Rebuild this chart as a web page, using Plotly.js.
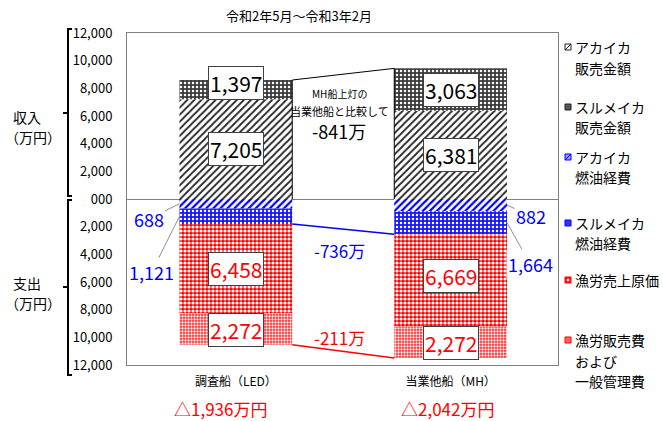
<!DOCTYPE html>
<html>
<head>
<meta charset="utf-8">
<script src="https://cdn.plot.ly/plotly-3.0.1.min.js"></script>
<style>
html,body{margin:0;padding:0;background:#fff;}
#chart{width:663px;height:421px;}
</style>
</head>
<body>
<div id="chart"></div>
<script>
// ---- data ----
const title = '令和2年5月～令和3年2月';
const categories = ['調査船（LED）', '当業他船（MH）'];
const balance = ['△1,936万円', '△2,042万円'];
const seriesNames = [
  ['アカイカ', '販売金額'],
  ['スルメイカ', '販売金額'],
  ['アカイカ', '燃油経費'],
  ['スルメイカ', '燃油経費'],
  ['漁労売上原価'],
  ['漁労販売費', 'および', '一般管理費']
];
// income (万円)
const akaikaSales = [7205, 6381];
const surumeSales = [1397, 3063];
// expenses (万円, shown below zero)
const akaikaFuel = [688, 882];
const surumeFuel = [1121, 1664];
const costOfSales = [6458, 6669];
const sellingAdmin = [2272, 2272];
const yTickVals = [-12000, -10000, -8000, -6000, -4000, -2000, 0, 2000, 4000, 6000, 8000, 10000, 12000];
const yTickText = ['12,000', '10,000', '8,000', '6,000', '4,000', '2,000', '000', '2,000', '4,000', '6,000', '8,000', '10,000', '12,000'];
const incomeNote = ['MH船上灯の', '当業他船と比較して', '-841万'];
const fuelNote = '-736万';
const costNote = '-211万';
const axisGroupLabels = [['収入', '（万円）'], ['支出', '（万円）']];

// ---- helpers ----
const FONT = '"Noto Sans CJK JP", "Noto Sans", sans-serif';
const L = 127, R = 558, T = 33, B = 365;
const px = x => (x - L) / (R - L);
const py = y => (B - y) / (B - T);
const fmt = v => v.toLocaleString('en-US');
const neg = a => a.map(v => -v);
const BW = 0.525, HW = BW / 2;

const styles = [
  {shape: '/', fg: '#222222', bg: '#ffffff', size: 5, solidity: 0.35},
  {shape: '.', fg: '#ffffff', bg: '#3a3a3a', size: 4, solidity: 0.3},
  {shape: '/', fg: '#0000ff', bg: '#ffffff', size: 5, solidity: 0.45},
  {shape: '.', fg: '#ffffff', bg: '#1515ff', size: 4, solidity: 0.3},
  {shape: '.', fg: '#ffffff', bg: '#ff0000', size: 4, solidity: 0.5},
  {shape: '.', fg: '#ffffff', bg: '#ff2a2a', size: 3, solidity: 0.45}
];
const iconColors = [
  ['#ffffff', '#222222'], ['#555555', '#222222'], ['#9999ff', '#0000ff'],
  ['#3333ff', '#0000ff'], ['#ff2020', '#ff0000'], ['#ff6060', '#ff0000']
];

const seriesVals = [akaikaSales, surumeSales, neg(akaikaFuel), neg(surumeFuel), neg(costOfSales), neg(sellingAdmin)];
const traces = seriesVals.map((vals, i) => ({
  type: 'bar',
  x: categories,
  y: vals,
  width: BW,
  name: seriesNames[i].join(''),
  showlegend: false,
  hoverinfo: 'skip',
  marker: {
    color: styles[i].bg,
    line: {width: 0},
    pattern: {shape: styles[i].shape, fgcolor: styles[i].fg, bgcolor: styles[i].bg,
              size: styles[i].size, solidity: styles[i].solidity, fillmode: 'replace'}
  }
}));

// cumulative values
const incomeTop = categories.map((_, i) => akaikaSales[i] + surumeSales[i]);
const fuelBottom = categories.map((_, i) => -(akaikaFuel[i] + surumeFuel[i]));
const costBottom = categories.map((_, i) => fuelBottom[i] - costOfSales[i] - sellingAdmin[i]);

const annotations = [];
const paperText = (x, y, text, size, color, anchor) => annotations.push({
  x: px(x), y: py(y), xref: 'paper', yref: 'paper', text: text, showarrow: false,
  xanchor: anchor || 'center', yanchor: 'middle',
  font: {family: FONT, size: size, color: color}
});
const boxLabel = (i, yv, val, color, yshift) => annotations.push({
  x: i, y: yv, xref: 'x', yref: 'y', text: fmt(val), showarrow: false,
  xanchor: 'center', yanchor: 'middle',
  font: {family: FONT, size: 21, color: color}, bgcolor: '#ffffff',
  bordercolor: '#404040', borderwidth: 1, borderpad: 1, yshift: yshift || 0
});
categories.forEach((c, i) => {
  boxLabel(i, akaikaSales[i] / 2, akaikaSales[i], '#000000');
  boxLabel(i, akaikaSales[i] + surumeSales[i] / 2, surumeSales[i], '#000000', i === 0 ? 7 : 0);
  boxLabel(i, fuelBottom[i] - costOfSales[i] / 2, costOfSales[i], '#ff0000', i === 1 ? 4 : 0);
  boxLabel(i, fuelBottom[i] - costOfSales[i] - sellingAdmin[i] / 2, sellingAdmin[i], '#ff0000', -1);
});
// fuel labels with leader lines
const leader = (xv, yv, val, ax, ay) => annotations.push({
  x: xv, y: yv, xref: 'x', yref: 'y', text: fmt(val), showarrow: true,
  arrowhead: 0, arrowwidth: 1, arrowcolor: '#909090', ax: ax, ay: ay,
  font: {family: FONT, size: 18, color: '#0000ff'}, bgcolor: '#ffffff', borderpad: 1
});
leader(0 - HW, -akaikaFuel[0] / 2, akaikaFuel[0], -31, 15);
leader(0 - HW, -akaikaFuel[0] - surumeFuel[0] / 2, surumeFuel[0], -28, 56);
leader(1 + HW, -akaikaFuel[1] / 2, akaikaFuel[1], 24, 11);
leader(1 + HW, -akaikaFuel[1] - surumeFuel[1] / 2, surumeFuel[1], 23, 41);

// comparison notes
const noteSizes = [10, 11, 18];
const noteY = [94, 111, 131];
incomeNote.forEach((t, k) => paperText(339, noteY[k], t, noteSizes[k], '#000000'));
paperText(339, 250, fuelNote, 17, '#0000ff');
paperText(339, 337, costNote, 17, '#ff0000');

// balance under categories
const balX = [220, 447];
balance.forEach((t, i) => paperText(balX[i], 408, t, 17, '#ff0000'));

// left group labels
const groupY = [[117, 137], [283, 303]];
axisGroupLabels.forEach((lines, g) => lines.forEach((t, k) =>
  paperText(k === 0 ? 27 : 33, groupY[g][k], t, 14, '#000000')));

// manual legend
const legendY = [[47, 68], [107, 127], [157, 177], [223, 243], [280], [340, 361, 381]];
const shapes = [];
seriesNames.forEach((lines, i) => {
  lines.forEach((t, k) => paperText(573, legendY[i][k], t, 14, '#000000', 'left'));
  const cy = legendY[i][0];
  shapes.push({type: 'rect', xref: 'paper', yref: 'paper', x0: px(565), x1: px(571), y0: py(cy - 3), y1: py(cy + 3),
    fillcolor: iconColors[i][0], line: {color: iconColors[i][1], width: 1}});
});
// tiny pattern hints in icons
shapes.push({type: 'line', xref: 'paper', yref: 'paper', x0: px(565), x1: px(571), y0: py(50), y1: py(44), line: {color: '#222', width: 1}});
shapes.push({type: 'line', xref: 'paper', yref: 'paper', x0: px(565), x1: px(571), y0: py(160), y1: py(154), line: {color: '#0000ff', width: 1}});
shapes.push({type: 'rect', xref: 'paper', yref: 'paper', x0: px(567), x1: px(569), y0: py(281), y1: py(279), fillcolor: '#fff', line: {width: 0}});

// brackets
const pth = pts => 'M' + pts.map(p => px(p[0]) + ',' + py(p[1])).join(' L');
shapes.push({type: 'path', xref: 'paper', yref: 'paper', path: pth([[72, 29], [68, 29], [68, 196], [72, 196]]), line: {color: '#000', width: 2}});
shapes.push({type: 'path', xref: 'paper', yref: 'paper', path: pth([[68, 113], [63, 113]]), line: {color: '#000', width: 2}});
shapes.push({type: 'path', xref: 'paper', yref: 'paper', path: pth([[72, 200], [68, 200], [68, 375], [72, 375]]), line: {color: '#000', width: 2}});
shapes.push({type: 'path', xref: 'paper', yref: 'paper', path: pth([[68, 287], [63, 287]]), line: {color: '#000', width: 2}});

// connector lines between bars
shapes.push({type: 'line', xref: 'x', yref: 'y', x0: 0 + HW, x1: 1 - HW, y0: incomeTop[0], y1: incomeTop[1], line: {color: '#000', width: 1}});
shapes.push({type: 'line', xref: 'x', yref: 'y', x0: 0 + HW, x1: 0 + HW, y0: incomeTop[0], y1: 0, line: {color: '#000', width: 1}});
shapes.push({type: 'line', xref: 'x', yref: 'y', x0: 1 - HW, x1: 1 - HW, y0: incomeTop[1], y1: 0, line: {color: '#000', width: 1}});
shapes.push({type: 'line', xref: 'x', yref: 'y', x0: 0 + HW, x1: 1 - HW, y0: fuelBottom[0], y1: fuelBottom[1], line: {color: '#0000ff', width: 1.5}});
shapes.push({type: 'line', xref: 'x', yref: 'y', x0: 0 + HW, x1: 1 - HW, y0: costBottom[0], y1: costBottom[1], line: {color: '#ff0000', width: 1.5}});

const layout = {
  width: 663, height: 421,
  margin: {l: L, r: 663 - R, t: T, b: 421 - B, pad: 0},
  paper_bgcolor: '#ffffff', plot_bgcolor: '#ffffff',
  barmode: 'relative',
  showlegend: false,
  font: {family: FONT, color: '#000000'},
  title: {text: title, font: {family: FONT, size: 13, color: '#000'}, x: 299 / 663, xanchor: 'center', xref: 'container', y: 1 - 16 / 421, yanchor: 'middle', yref: 'container'},
  xaxis: {type: 'category', showline: true, mirror: true, linecolor: '#808080', linewidth: 1,
    showgrid: false, zeroline: false, ticks: '', tickfont: {family: FONT, size: 12, color: '#000'},
    ticklabelstandoff: 6, fixedrange: true},
  yaxis: {range: [-12000, 12000], tickmode: 'array', tickvals: yTickVals, ticktext: yTickText,
    showline: true, mirror: true, linecolor: '#808080', linewidth: 1, showgrid: false,
    zeroline: true, zerolinecolor: '#808080', zerolinewidth: 1, ticks: '',
    tickfont: {family: FONT, size: 13, color: '#000'}, ticklabelstandoff: 11, fixedrange: true},
  annotations: annotations,
  shapes: shapes
};

Plotly.newPlot('chart', traces, layout, {staticPlot: true, displayModeBar: false});
</script>
</body>
</html>
